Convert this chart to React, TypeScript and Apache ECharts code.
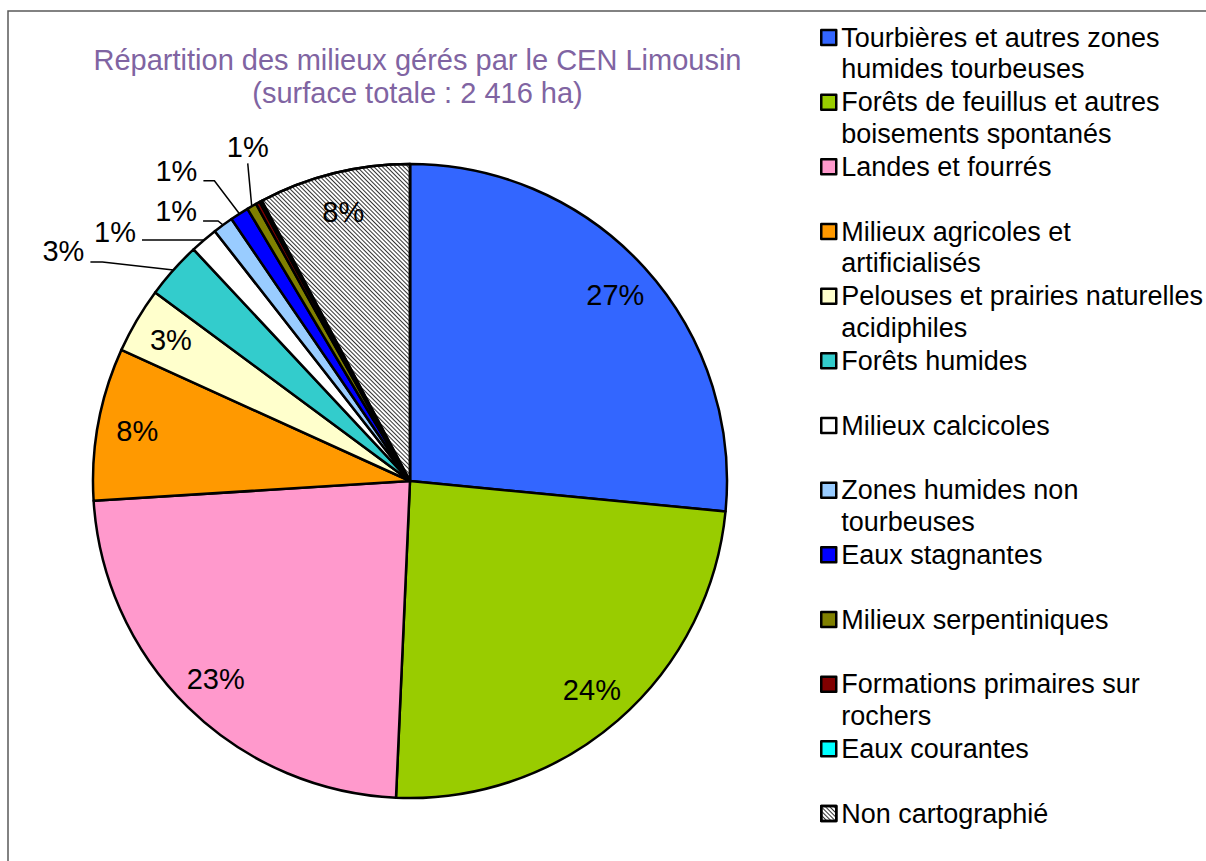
import React, { useEffect, useRef } from 'react';
import * as echarts from 'echarts';

const TITLE_LINES = ['Répartition des milieux gérés par le CEN Limousin', '(surface totale : 2 416 ha)'];

const CATEGORIES = [
  'Tourbières et autres zones\nhumides tourbeuses',
  'Forêts de feuillus et autres\nboisements spontanés',
  'Landes et fourrés',
  'Milieux agricoles et\nartificialisés',
  'Pelouses et prairies naturelles\nacidiphiles',
  'Forêts humides',
  'Milieux calcicoles',
  'Zones humides non\ntourbeuses',
  'Eaux stagnantes',
  'Milieux serpentiniques',
  'Formations primaires sur\nrochers',
  'Eaux courantes',
  'Non cartographié',
];

// surfaces in hectares (total 2 416 ha)
const SURFACES_HA = [641, 584, 563, 188, 81, 70, 34, 25, 23, 12, 5, 3, 187];

const COLORS = [
  '#3366FF', '#99CC00', '#FF99CC', '#FF9900', '#FFFFCC', '#33CCCC', '#FFFFFF',
  '#99CCFF', '#0000FF', '#808000', '#800000', '#00FFFF', '#FFFFFF',
];

// how each slice's percentage label is shown
const LABEL_MODE = [
  'inside', 'inside', 'inside', 'inside', 'inside', 'outside', 'outside',
  'outside', 'outside', 'outside', 'none', 'none', 'inside',
];

const HATCHED = [false, false, false, false, false, false, false, false, false, false, false, false, true];

const FONT = '"Liberation Sans", Arial, Helvetica, sans-serif';
const CX = 410;
const CY = 481;
const R = 317;

// leader line shapes for the outside labels (offsets from the slice's edge point)
const LEADERS: Record<number, { elbow: [number, number]; tail: number; lift: number; above?: boolean }> = {
  5: { elbow: [-71, -8], tail: 12, lift: 11 },
  6: { elbow: [-62, 0], tail: 0, lift: 8 },
  7: { elbow: [-5, -4], tail: 15, lift: 10 },
  8: { elbow: [-25, -33], tail: 11, lift: 10 },
  9: { elbow: [-4, -43], tail: 0, lift: 16, above: true },
};

export default function App() {
  const ref = useRef<HTMLDivElement>(null);

  useEffect(() => {
    if (!ref.current) return;
    const chart = echarts.init(ref.current, undefined, { renderer: 'svg' });

    const total = SURFACES_HA.reduce((a, b) => a + b, 0);
    const midAngle = (i: number) => {
      let c = 0;
      for (let k = 0; k < i; k++) c += SURFACES_HA[k];
      return ((c + SURFACES_HA[i] / 2) / total) * 2 * Math.PI;
    };
    const pt = (a: number, r: number): [number, number] => [CX + r * Math.sin(a), CY - r * Math.cos(a)];

    const hatch = {
      symbol: 'rect',
      symbolSize: 1,
      color: '#333333',
      dashArrayX: [1, 0],
      dashArrayY: [1, 1.8],
      rotation: Math.PI / 4,
    };

    const data = CATEGORIES.map((name, i) => {
      const mode = LABEL_MODE[i];
      return {
        name,
        value: SURFACES_HA[i],
        itemStyle: HATCHED[i] ? { color: '#FFFFFF', decal: hatch } : { color: COLORS[i] },
        label: {
          show: mode !== 'none',
          position: mode === 'outside' ? 'outside' : 'inside',
        },
        labelLine: {
          show: mode === 'outside',
          lineStyle: { color: '#000', width: 1.5 },
        },
      };
    });

    chart.setOption({
      animation: false,
      backgroundColor: '#ffffff',
      graphic: [
        {
          type: 'rect',
          silent: true,
          z: -10,
          shape: { x: 8, y: 11, width: 1400, height: 1000 },
          style: { fill: 'none', stroke: '#595959', lineWidth: 1.5 },
        },
        {
          type: 'text',
          x: 417.5,
          y: 76.5,
          style: {
            text: TITLE_LINES.join('\n'),
            fill: '#8064A2',
            fontSize: 29,
            fontFamily: FONT,
            align: 'center',
            verticalAlign: 'middle',
            lineHeight: 33,
          },
        },
      ],
      legend: {
        orient: 'vertical',
        left: 820,
        top: 21.75,
        height: 900,
        padding: 0,
        itemGap: 1.67,
        itemWidth: 15,
        itemHeight: 46.5,
        icon: 'path://M0,0H15V15H0Z M0,46.5',
        selectedMode: false,
        itemStyle: { borderColor: '#000', borderWidth: 2.5 },
        textStyle: { fontSize: 27, lineHeight: 31.5, color: '#000', fontFamily: FONT },
        formatter: (name: string) => (name.indexOf('\n') >= 0 ? name : name + '\n '),
        data: CATEGORIES,
      },
      series: [
        {
          type: 'pie',
          center: [CX, CY],
          radius: R,
          startAngle: 90,
          clockwise: true,
          avoidLabelOverlap: false,
          percentPrecision: 0,
          itemStyle: { borderColor: '#000', borderWidth: 2.5 },
          emphasis: { disabled: true },
          label: {
            formatter: '{d}%',
            fontSize: 29,
            color: '#000',
            fontFamily: FONT,
          },
          labelLayout: (p: any) => {
            const i = p.dataIndex;
            const mode = LABEL_MODE[i];
            const a = midAngle(i);
            if (mode === 'inside') {
              const [x, y] = pt(a, R * 0.875);
              return { x, y, align: 'center', verticalAlign: 'middle' };
            }
            if (mode === 'outside') {
              const L = LEADERS[i];
              const A = pt(a, R);
              const B: [number, number] = [A[0] + L.elbow[0], A[1] + L.elbow[1]];
              const C: [number, number] = [B[0] - L.tail, B[1]];
              if (L.above) {
                return {
                  x: B[0],
                  y: B[1] - L.lift,
                  align: 'center',
                  verticalAlign: 'middle',
                  labelLinePoints: [A, B, C],
                };
              }
              return {
                x: C[0] - 6,
                y: C[1] - L.lift,
                align: 'right',
                verticalAlign: 'middle',
                labelLinePoints: [A, B, C],
              };
            }
            return {};
          },
          data,
        },
      ],
    });

    return () => chart.dispose();
  }, []);

  return (
    <div
      ref={ref}
      style={{ position: 'absolute', left: 0, top: 0, width: 1206, height: 861 }}
    />
  );
}
